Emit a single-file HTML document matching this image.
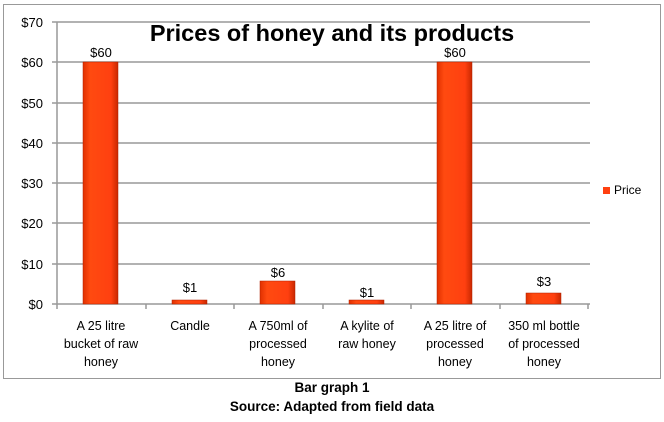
<!DOCTYPE html>
<html><head><style>
body{margin:0;background:#fff;width:664px;height:417px;overflow:hidden;font-family:"Liberation Sans",sans-serif}
</style></head><body>
<svg width="664" height="417" xmlns="http://www.w3.org/2000/svg" font-family="Liberation Sans, DejaVu Sans, sans-serif">
<defs>
<linearGradient id="g" x1="0" x2="1" y1="0" y2="0">
<stop offset="0" stop-color="#e03000"/><stop offset="0.2" stop-color="#ff4a10"/><stop offset="0.8" stop-color="#ff4010"/><stop offset="1" stop-color="#c82800"/>
</linearGradient>
</defs>
<rect x="3.5" y="4.5" width="657" height="374" fill="#fff" stroke="#999" stroke-width="1"/>
<g stroke="#999" stroke-width="1.5">
<line x1="52" y1="22" x2="590" y2="22"/>
<line x1="52" y1="62" x2="590" y2="62"/>
<line x1="52" y1="103" x2="590" y2="103"/>
<line x1="52" y1="143" x2="590" y2="143"/>
<line x1="52" y1="183" x2="590" y2="183"/>
<line x1="52" y1="223" x2="590" y2="223"/>
<line x1="52" y1="264" x2="590" y2="264"/>
<line x1="52" y1="304" x2="590" y2="304"/>
<line x1="57" y1="22" x2="57" y2="304"/>
<line x1="57" y1="304" x2="57" y2="309"/><line x1="146" y1="304" x2="146" y2="309"/><line x1="234" y1="304" x2="234" y2="309"/><line x1="323" y1="304" x2="323" y2="309"/><line x1="411" y1="304" x2="411" y2="309"/><line x1="500" y1="304" x2="500" y2="309"/><line x1="588" y1="304" x2="588" y2="309"/>
</g>
<g font-size="13" fill="#000" text-anchor="end">
<text x="43" y="27">$70</text><text x="43" y="67">$60</text><text x="43" y="108">$50</text><text x="43" y="148">$40</text><text x="43" y="188">$30</text><text x="43" y="228">$20</text><text x="43" y="269">$10</text><text x="43" y="309">$0</text>
</g>
<g fill="url(#g)" stroke="#b02000" stroke-width="0.5">
<rect x="83" y="62" width="35" height="242"/>
<rect x="172" y="300" width="35" height="4"/>
<rect x="260" y="281" width="35" height="23"/>
<rect x="349" y="300" width="35" height="4"/>
<rect x="437" y="62" width="35" height="242"/>
<rect x="526" y="293" width="35" height="11"/>
</g>
<g font-size="13" text-anchor="middle" fill="#000">
<text x="101" y="57">$60</text><text x="190" y="292">$1</text><text x="278" y="277">$6</text><text x="367" y="297">$1</text><text x="455" y="57">$60</text><text x="544" y="286">$3</text>
</g>
<text x="332" y="41" font-size="23.5" font-weight="bold" text-anchor="middle" fill="#000">Prices of honey and its products</text>
<g font-size="12.5" text-anchor="middle" fill="#000">
<text x="101" y="330">A 25 litre</text><text x="101" y="348">bucket of raw</text><text x="101" y="366">honey</text>
<text x="190" y="330">Candle</text>
<text x="278" y="330">A 750ml of</text><text x="278" y="348">processed</text><text x="278" y="366">honey</text>
<text x="367" y="330">A kylite of</text><text x="367" y="348">raw honey</text>
<text x="455" y="330">A 25 litre of</text><text x="455" y="348">processed</text><text x="455" y="366">honey</text>
<text x="544" y="330">350 ml bottle</text><text x="544" y="348">of processed</text><text x="544" y="366">honey</text>
</g>
<rect x="603" y="187" width="7" height="7" fill="#ff4010"/>
<text x="614" y="194" font-size="12" fill="#000">Price</text>
<g font-size="13.5" font-weight="bold" text-anchor="middle" fill="#000">
<text x="332" y="392">Bar graph 1</text>
<text x="332" y="411">Source: Adapted from field data</text>
</g>
</svg>
</body></html>
